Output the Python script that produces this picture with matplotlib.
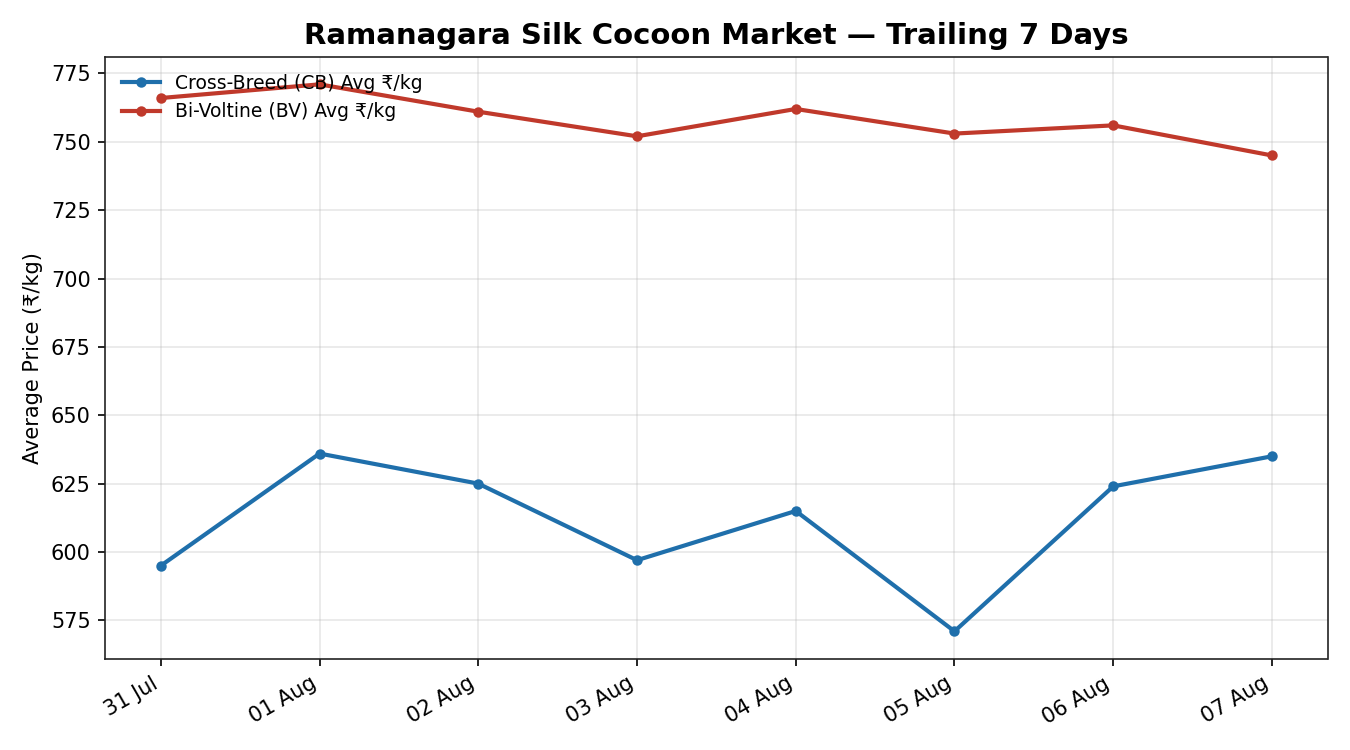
import matplotlib
matplotlib.use('Agg')
import matplotlib.pyplot as plt
import matplotlib.dates as mdates
import pandas as pd

dates = pd.date_range('2024-07-31', '2024-08-07', freq='D')
cb_avg = [595, 636, 625, 597, 615, 571, 624, 635]
bv_avg = [766, 771, 761, 752, 762, 753, 756, 745]

fig, ax = plt.subplots(figsize=(9, 5), dpi=150)

ax.plot(dates, cb_avg, color='#1f6fab', marker='o', markersize=4, linewidth=2,
        label='Cross-Breed (CB) Avg ₹/kg')
ax.plot(dates, bv_avg, color='#c0392b', marker='o', markersize=4, linewidth=2,
        label='Bi-Voltine (BV) Avg ₹/kg')

ax.set_title('Ramanagara Silk Cocoon Market — Trailing 7 Days', fontsize=14, fontweight='bold')
ax.set_ylabel('Average Price (₹/kg)')
ax.grid(True, alpha=0.3)
ax.xaxis.set_major_locator(mdates.DayLocator())
ax.xaxis.set_major_formatter(mdates.DateFormatter('%d %b'))
for s in ax.spines.values():
    s.set_color('#222222')
ax.legend(loc='upper left', frameon=False, fontsize=9)
fig.autofmt_xdate()

plt.tight_layout()
plt.savefig('out.png', dpi=150)
